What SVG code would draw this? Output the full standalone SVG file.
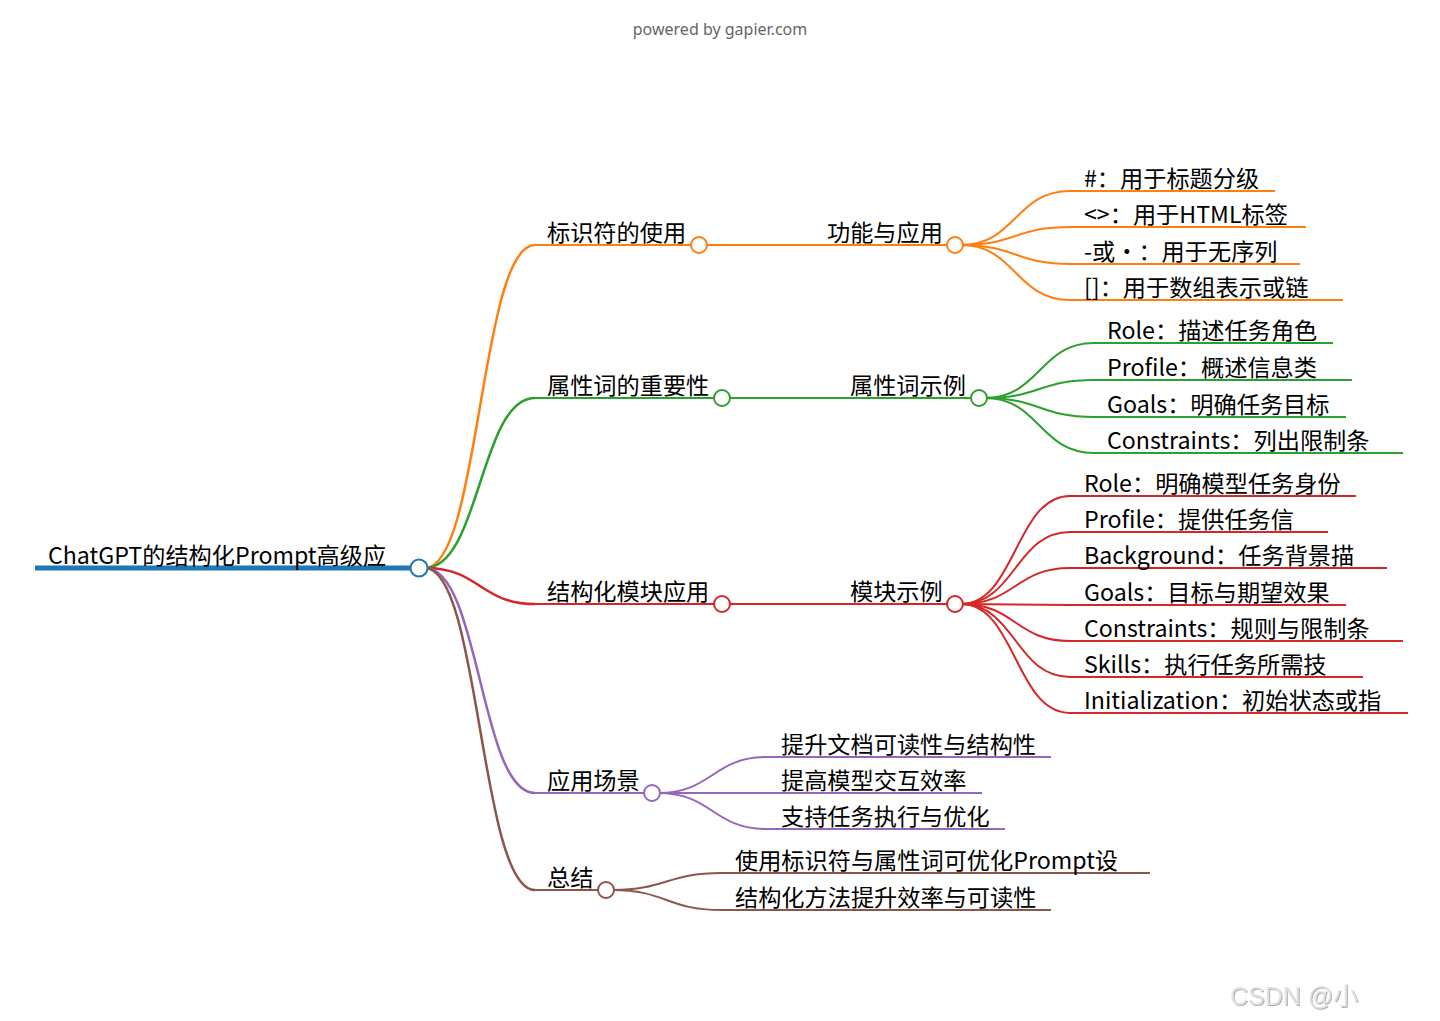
<svg xmlns="http://www.w3.org/2000/svg" width="1440" height="1021" viewBox="0 0 1440 1021">
<defs>
<style>
text{font-family:"Noto Sans CJK SC","Noto Sans",sans-serif;font-size:23.2px;fill:#000}
.lk{fill:none;stroke-width:2}
.lk0{fill:none;stroke-width:2.5}
.ul{fill:none;stroke-width:2}
.c{fill:#fff;stroke-width:2}
.o{stroke:#ff7f0e}.g{stroke:#2ca02c}.r{stroke:#d62728}.p{stroke:#9467bd}.b{stroke:#8c564b}.bl{stroke:#1f77b4}
.credit{font-family:"Noto Sans","Open Sans",sans-serif;font-size:16px;fill:#666}
.wm{font-family:"Liberation Sans","Noto Sans CJK SC",sans-serif;font-size:25px;fill:#e2e2e2}
</style>
<filter id="sh" x="-10%" y="-20%" width="120%" height="150%">
<feDropShadow dx="1" dy="1" stdDeviation="0.7" flood-color="#999" flood-opacity="0.8"/>
</filter>
</defs>
<rect width="1440" height="1021" fill="#fff"/>
<text class="credit" x="720" y="35" text-anchor="middle">powered by gapier.com</text>

<g id="connectors">
<path class="lk0 o" d="M425,568 C480,568 480,245 535,245"/>
<path class="lk0 g" d="M425,568 C480,568 480,398 535,398"/>
<path class="lk0 r" d="M425,568 C480,568 480,604 535,604"/>
<path class="lk0 p" d="M425,568 C480,568 480,793 535,793"/>
<path class="lk0 b" d="M425,568 C480,568 480,890 535,890"/>
<path class="lk o" d="M699,245 L815,245"/>
<path class="lk g" d="M722,398 L838,398"/>
<path class="lk r" d="M722,604 L838,604"/>
<path class="lk o" d="M961,245 C1015.5,245 1015.5,191 1070,191"/>
<path class="lk o" d="M961,245 C1015.5,245 1015.5,227 1070,227"/>
<path class="lk o" d="M961,245 C1015.5,245 1015.5,264 1070,264"/>
<path class="lk o" d="M961,245 C1015.5,245 1015.5,300 1070,300"/>
<path class="lk g" d="M985,398 C1039.5,398 1039.5,343 1094,343"/>
<path class="lk g" d="M985,398 C1039.5,398 1039.5,380 1094,380"/>
<path class="lk g" d="M985,398 C1039.5,398 1039.5,417 1094,417"/>
<path class="lk g" d="M985,398 C1039.5,398 1039.5,453 1094,453"/>
<path class="lk r" d="M961,604 C1015.5,604 1015.5,496 1070,496"/>
<path class="lk r" d="M961,604 C1015.5,604 1015.5,532 1070,532"/>
<path class="lk r" d="M961,604 C1015.5,604 1015.5,568 1070,568"/>
<path class="lk r" d="M961,604 C1015.5,604 1015.5,605 1070,605"/>
<path class="lk r" d="M961,604 C1015.5,604 1015.5,641 1070,641"/>
<path class="lk r" d="M961,604 C1015.5,604 1015.5,677 1070,677"/>
<path class="lk r" d="M961,604 C1015.5,604 1015.5,713 1070,713"/>
<path class="lk p" d="M658,793 C712.5,793 712.5,757 767,757"/>
<path class="lk p" d="M658,793 C712.5,793 712.5,793 767,793"/>
<path class="lk p" d="M658,793 C712.5,793 712.5,829 767,829"/>
<path class="lk b" d="M612,890 C666.5,890 666.5,873 721,873"/>
<path class="lk b" d="M612,890 C666.5,890 666.5,910 721,910"/>
</g>

<g id="root">
<line x1="35" y1="568" x2="419" y2="568" stroke="#1f77b4" stroke-width="5"/>
<text x="48" y="563.5">ChatGPT的结构化Prompt高级应</text>
<circle class="c bl" cx="419" cy="568" r="8.5" stroke-width="2.5"/>
</g>

<g id="n-biaoshifu">
<line class="ul o" x1="535" y1="245" x2="699" y2="245"/>
<text x="547" y="241">标识符的使用</text>
<circle class="c o" cx="699" cy="245" r="8"/>
</g>
<g id="n-gongneng">
<line class="ul o" x1="815" y1="245" x2="955" y2="245"/>
<text x="827" y="241">功能与应用</text>
<circle class="c o" cx="955" cy="245" r="8"/>
</g>
<g id="n-o1"><line class="ul o" x1="1070" y1="191" x2="1275" y2="191"/><text x="1084" y="187">#：用于标题分级</text></g>
<g id="n-o2"><line class="ul o" x1="1070" y1="227" x2="1306" y2="227"/><text x="1084" y="223">&lt;&gt;：用于HTML标签</text></g>
<g id="n-o3"><line class="ul o" x1="1070" y1="264" x2="1300" y2="264"/><text x="1084" y="260">-或•：用于无序列</text></g>
<g id="n-o4"><line class="ul o" x1="1070" y1="300" x2="1343" y2="300"/><text x="1084" y="296">[]：用于数组表示或链</text></g>

<g id="n-shuxing">
<line class="ul g" x1="535" y1="398" x2="722" y2="398"/>
<text x="547" y="394">属性词的重要性</text>
<circle class="c g" cx="722" cy="398" r="8"/>
</g>
<g id="n-shuxingshili">
<line class="ul g" x1="838" y1="398" x2="979" y2="398"/>
<text x="850" y="394">属性词示例</text>
<circle class="c g" cx="979" cy="398" r="8"/>
</g>
<g id="n-g1"><line class="ul g" x1="1094" y1="343" x2="1333" y2="343"/><text x="1107" y="339">Role：描述任务角色</text></g>
<g id="n-g2"><line class="ul g" x1="1094" y1="380" x2="1352" y2="380"/><text x="1107" y="376">Profile：概述信息类</text></g>
<g id="n-g3"><line class="ul g" x1="1094" y1="417" x2="1346" y2="417"/><text x="1107" y="413">Goals：明确任务目标</text></g>
<g id="n-g4"><line class="ul g" x1="1094" y1="453" x2="1403" y2="453"/><text x="1107" y="449">Constraints：列出限制条</text></g>

<g id="n-jiegouhua">
<line class="ul r" x1="535" y1="604" x2="722" y2="604"/>
<text x="547" y="600">结构化模块应用</text>
<circle class="c r" cx="722" cy="604" r="8"/>
</g>
<g id="n-mokuai">
<line class="ul r" x1="838" y1="604" x2="955" y2="604"/>
<text x="850" y="600">模块示例</text>
<circle class="c r" cx="955" cy="604" r="8"/>
</g>
<g id="n-r1"><line class="ul r" x1="1070" y1="496" x2="1356" y2="496"/><text x="1084" y="492">Role：明确模型任务身份</text></g>
<g id="n-r2"><line class="ul r" x1="1070" y1="532" x2="1328" y2="532"/><text x="1084" y="528">Profile：提供任务信</text></g>
<g id="n-r3"><line class="ul r" x1="1070" y1="568" x2="1387" y2="568"/><text x="1084" y="564">Background：任务背景描</text></g>
<g id="n-r4"><line class="ul r" x1="1070" y1="605" x2="1346" y2="605"/><text x="1084" y="601">Goals：目标与期望效果</text></g>
<g id="n-r5"><line class="ul r" x1="1070" y1="641" x2="1403" y2="641"/><text x="1084" y="637">Constraints：规则与限制条</text></g>
<g id="n-r6"><line class="ul r" x1="1070" y1="677" x2="1363" y2="677"/><text x="1084" y="673">Skills：执行任务所需技</text></g>
<g id="n-r7"><line class="ul r" x1="1070" y1="713" x2="1408" y2="713"/><text x="1084" y="709">Initialization：初始状态或指</text></g>

<g id="n-changjing">
<line class="ul p" x1="535" y1="793" x2="652" y2="793"/>
<text x="547" y="789">应用场景</text>
<circle class="c p" cx="652" cy="793" r="8"/>
</g>
<g id="n-p1"><line class="ul p" x1="767" y1="757" x2="1051" y2="757"/><text x="781" y="753">提升文档可读性与结构性</text></g>
<g id="n-p2"><line class="ul p" x1="767" y1="793" x2="982" y2="793"/><text x="781" y="789">提高模型交互效率</text></g>
<g id="n-p3"><line class="ul p" x1="767" y1="829" x2="1005" y2="829"/><text x="781" y="825">支持任务执行与优化</text></g>

<g id="n-zongjie">
<line class="ul b" x1="535" y1="890" x2="606" y2="890"/>
<text x="547" y="886">总结</text>
<circle class="c b" cx="606" cy="890" r="8"/>
</g>
<g id="n-b1"><line class="ul b" x1="721" y1="873" x2="1150" y2="873"/><text x="735" y="869">使用标识符与属性词可优化Prompt设</text></g>
<g id="n-b2"><line class="ul b" x1="721" y1="910" x2="1051" y2="910"/><text x="735" y="906">结构化方法提升效率与可读性</text></g>

<text class="wm" x="1230" y="1005" filter="url(#sh)">CSDN @小</text>
</svg>
